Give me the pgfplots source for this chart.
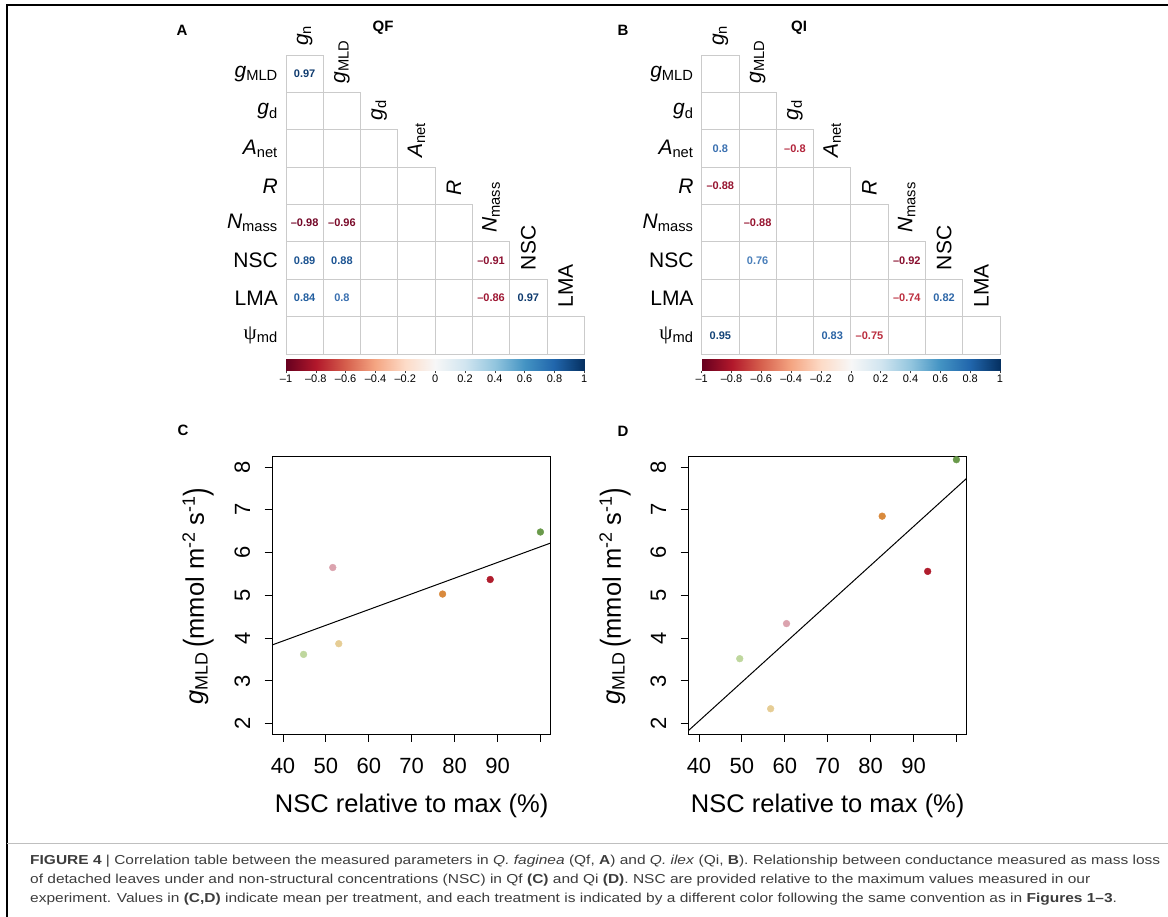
\documentclass[border=0pt]{standalone}
\usepackage{pgfplots}
\pgfplotsset{compat=1.18}
\usepackage{graphicx}
\usepackage{fontspec}
\setmainfont{Liberation Sans}
\newfontfamily\psifont{Liberation Serif}

\definecolor{capgray}{HTML}{3C3C3C}
\definecolor{gridgray}{HTML}{CBCBCB}
\definecolor{clg}{HTML}{BFD79E}
\definecolor{cpk}{HTML}{DBA3AE}
\definecolor{ctn}{HTML}{E6CD95}
\definecolor{cor}{HTML}{D98A3D}
\definecolor{crd}{HTML}{B01D2D}
\definecolor{cdg}{HTML}{6A9A4B}

\newcommand\lblfont{\fontsize{21}{25}\selectfont}
\newcommand\valfont{\fontsize{11}{13}\selectfont\bfseries}
\newcommand\cbfont{\fontsize{11}{13}\selectfont}
\newcommand\tickfont{\fontsize{22}{26}\selectfont}
\newcommand\axlfont{\fontsize{25.5}{30}\selectfont}
\newcommand\capfont{\fontsize{13}{16}\selectfont}
\newcommand\panfont{\fontsize{15}{18}\selectfont\bfseries}
\newcommand\gl[2]{\textit{#1}\textsubscript{#2}}
\newcommand\psimd{{\psifont ψ}\textsubscript{md}}
\newcommand\glab{\textit{g}\textsubscript{MLD}\,\raisebox{-0.12em}{\scalebox{1}[1.3]{(}}mmol m\textsuperscript{-2} s\textsuperscript{-1}\raisebox{-0.12em}{\scalebox{1}[1.3]{)}}}

\newlength\capw
\newcommand\capA{\textbf{FIGURE 4} | Correlation table between the measured parameters in \textit{Q. faginea} (Qf, \textbf{A}) and \textit{Q. ilex} (Qi, \textbf{B}). Relationship between conductance measured as mass loss}
\newcommand\capB{of detached leaves under and non-structural concentrations (NSC) in Qf \textbf{(C)} and Qi \textbf{(D)}. NSC are provided relative to the maximum values measured in our}
\newcommand\capC{experiment. Values in \textbf{(C,D)} indicate mean per treatment, and each treatment is indicated by a different color following the same convention as in \textbf{Figures 1--3}.}

\pgfplotsset{
  colormap={rdbu}{rgb255=(103,0,31) rgb255=(178,24,43) rgb255=(214,96,77) rgb255=(244,165,130) rgb255=(253,219,199) rgb255=(247,247,247) rgb255=(209,229,240) rgb255=(146,197,222) rgb255=(67,147,195) rgb255=(33,102,172) rgb255=(5,48,97)},
  corr/.style={
    scale only axis, width=298.3pt, height=299pt,
    xmin=0.5, xmax=8.5, ymin=0.5, ymax=8.5, y dir=reverse,
    axis line style={draw=none}, major tick length=0pt,
    xtick=\empty, ytick={1,2,3,4,5,6,7,8},
    yticklabels={\gl{g}{MLD},\gl{g}{d},\gl{A}{net},\textit{R},\gl{N}{mass},NSC,LMA,\psimd},
    yticklabel style={font=\lblfont, anchor=east, inner sep=0pt, xshift=-8pt},
    clip=false,
  },
  cbar/.style={
    scale only axis, width=298.3pt, height=12pt,
    xmin=-1, xmax=1, ymin=0, ymax=1,
    axis line style={draw=none}, ytick=\empty,
    xtick={-1,-0.8,-0.6,-0.4,-0.2,0,0.2,0.4,0.6,0.8,1},
    xticklabels={--1,--0.8,--0.6,--0.4,--0.2,0,0.2,0.4,0.6,0.8,1},
    tick pos=left, tick align=outside, major tick length=2.5pt,
    tick style={black!75, line width=0.6pt},
    xticklabel style={font=\cbfont, inner sep=1pt},
    colormap name=rdbu, point meta min=-1, point meta max=1,
  },
  rplot/.style={
    scale only axis, width=278pt, height=277.3pt,
    xmin=37.6, xmax=102.4, ymin=1.76, ymax=8.24,
    xtick={40,50,60,70,80,90,100}, xticklabels={40,50,60,70,80,90,{}},
    ytick={2,3,4,5,6,7,8},
    tick align=outside, tick pos=left, major tick length=8pt,
    axis line style={line width=0.9pt}, tick style={line width=0.9pt, black},
    ticklabel style={font=\tickfont},
    yticklabel style={rotate=90, anchor=south},
    xticklabel shift=12.5pt, yticklabel shift=11pt,
    /pgf/number format/assume math mode=true,
    scatter/classes={
      lg={mark=*, fill=clg, draw=clg}, pk={mark=*, fill=cpk, draw=cpk},
      tn={mark=*, fill=ctn, draw=ctn}, or={mark=*, fill=cor, draw=cor},
      rd={mark=*, fill=crd, draw=crd}, dg={mark=*, fill=cdg, draw=cdg}},
  },
  cells/.style={only marks, mark=square, mark size=18.66pt,
    mark options={draw=gridgray, line width=0.9pt}},
  % r = correlation; t = printed text; k = its colour on the RdBu scale
  vals/.style={only marks, mark=none,
    visualization depends on={value \thisrow{t}\as\lab},
    visualization depends on={value \thisrow{k}\as\tcol},
    nodes near coords={\lab},
    every node near coord/.append style={font=\valfont, anchor=center,
      execute at begin node={\color[HTML]{\tcol}}}},
}

\begin{document}
\settowidth{\capw}{\capfont\capA}%
\pgfmathsetmacro\capsx{1130/\capw}%
\begin{tikzpicture}[x=1pt,y=1pt]
\useasboundingbox (0,0) rectangle (1168,917);

% ---- A: QF correlations
\begin{axis}[corr, at={(286pt,862pt)}, anchor=north west]
\addplot[cells] coordinates {(1,1) (1,2) (2,2) (1,3) (2,3) (3,3)
 (1,4) (2,4) (3,4) (4,4) (1,5) (2,5) (3,5) (4,5) (5,5)
 (1,6) (2,6) (3,6) (4,6) (5,6) (6,6) (1,7) (2,7) (3,7) (4,7) (5,7) (6,7) (7,7)
 (1,8) (2,8) (3,8) (4,8) (5,8) (6,8) (7,8) (8,8)};
\addplot[vals] table[x=c, y=r] {
c r v t k
1 1 0.97 0.97 0E3A6E
1 5 -0.98 –0.98 720526
2 5 -0.96 –0.96 7A0A29
1 6 0.89 0.89 1A5290
2 6 0.88 0.88 1C5493
6 6 -0.91 –0.91 8C1030
1 7 0.84 0.84 225E9F
2 7 0.80 0.8 3A70B0
6 7 -0.86 –0.86 9E1733
7 7 0.97 0.97 0E3A6E
};
\node[rotate=90, anchor=west, font=\lblfont, inner sep=1pt] at ([yshift=8pt]axis cs:1,0.5) {\gl{g}{n}};
\node[rotate=90, anchor=west, font=\lblfont, inner sep=1pt] at ([yshift=8pt]axis cs:2,1.5) {\gl{g}{MLD}};
\node[rotate=90, anchor=west, font=\lblfont, inner sep=1pt] at ([yshift=8pt]axis cs:3,2.5) {\gl{g}{d}};
\node[rotate=90, anchor=west, font=\lblfont, inner sep=1pt] at ([yshift=8pt]axis cs:4,3.5) {\gl{A}{net}};
\node[rotate=90, anchor=west, font=\lblfont, inner sep=1pt] at ([yshift=8pt]axis cs:5,4.5) {\textit{R}};
\node[rotate=90, anchor=west, font=\lblfont, inner sep=1pt] at ([yshift=8pt]axis cs:6,5.5) {\gl{N}{mass}};
\node[rotate=90, anchor=west, font=\lblfont, inner sep=1pt] at ([yshift=8pt]axis cs:7,6.5) {NSC};
\node[rotate=90, anchor=west, font=\lblfont, inner sep=1pt] at ([yshift=8pt]axis cs:8,7.5) {LMA};
\end{axis}
\begin{axis}[cbar, at={(286pt,558pt)}, anchor=north west]
\addplot[surf, shader=interp, point meta=x] table {
x y
-1 0
-0.8 0
-0.6 0
-0.4 0
-0.2 0
0 0
0.2 0
0.4 0
0.6 0
0.8 0
1 0

-1 1
-0.8 1
-0.6 1
-0.4 1
-0.2 1
0 1
0.2 1
0.4 1
0.6 1
0.8 1
1 1
};
\end{axis}

% ---- B: QI correlations
\begin{axis}[corr, at={(701.7pt,862pt)}, anchor=north west]
\addplot[cells] coordinates {(1,1) (1,2) (2,2) (1,3) (2,3) (3,3)
 (1,4) (2,4) (3,4) (4,4) (1,5) (2,5) (3,5) (4,5) (5,5)
 (1,6) (2,6) (3,6) (4,6) (5,6) (6,6) (1,7) (2,7) (3,7) (4,7) (5,7) (6,7) (7,7)
 (1,8) (2,8) (3,8) (4,8) (5,8) (6,8) (7,8) (8,8)};
\addplot[vals] table[x=c, y=r] {
c r v t k
1 3 0.80 0.8 3A70B0
3 3 -0.80 –0.8 B2233A
1 4 -0.88 –0.88 96142F
2 5 -0.88 –0.88 96142F
2 6 0.76 0.76 4A7FBA
6 6 -0.92 –0.92 880F2E
6 7 -0.74 –0.74 BC3040
7 7 0.82 0.82 2E67A8
1 8 0.95 0.95 134377
4 8 0.83 0.83 2A63A4
5 8 -0.75 –0.75 BA2D3E
};
\node[rotate=90, anchor=west, font=\lblfont, inner sep=1pt] at ([yshift=8pt]axis cs:1,0.5) {\gl{g}{n}};
\node[rotate=90, anchor=west, font=\lblfont, inner sep=1pt] at ([yshift=8pt]axis cs:2,1.5) {\gl{g}{MLD}};
\node[rotate=90, anchor=west, font=\lblfont, inner sep=1pt] at ([yshift=8pt]axis cs:3,2.5) {\gl{g}{d}};
\node[rotate=90, anchor=west, font=\lblfont, inner sep=1pt] at ([yshift=8pt]axis cs:4,3.5) {\gl{A}{net}};
\node[rotate=90, anchor=west, font=\lblfont, inner sep=1pt] at ([yshift=8pt]axis cs:5,4.5) {\textit{R}};
\node[rotate=90, anchor=west, font=\lblfont, inner sep=1pt] at ([yshift=8pt]axis cs:6,5.5) {\gl{N}{mass}};
\node[rotate=90, anchor=west, font=\lblfont, inner sep=1pt] at ([yshift=8pt]axis cs:7,6.5) {NSC};
\node[rotate=90, anchor=west, font=\lblfont, inner sep=1pt] at ([yshift=8pt]axis cs:8,7.5) {LMA};
\end{axis}
\begin{axis}[cbar, at={(701.7pt,558pt)}, anchor=north west]
\addplot[surf, shader=interp, point meta=x] table {
x y
-1 0
-0.8 0
-0.6 0
-0.4 0
-0.2 0
0 0
0.2 0
0.4 0
0.6 0
0.8 0
1 0

-1 1
-0.8 1
-0.6 1
-0.4 1
-0.2 1
0 1
0.2 1
0.4 1
0.6 1
0.8 1
1 1
};
\end{axis}

% ---- C: Qf
\begin{axis}[rplot, at={(272.7pt,183pt)}, anchor=south west]
\addplot[scatter, only marks, mark size=3.4pt, scatter src=explicit symbolic]
 table[meta=c] {
x y c
44.8 3.62 lg
51.6 5.65 pk
53.0 3.87 tn
77.2 5.03 or
88.3 5.37 rd
100.0 6.48 dg
};
\addplot[black, line width=1pt] coordinates {(37.6,3.845) (102.4,6.223)};
\end{axis}

% ---- D: Qi
\begin{axis}[rplot, at={(688.7pt,183pt)}, anchor=south west]
\addplot[scatter, only marks, mark size=3.4pt, scatter src=explicit symbolic]
 table[meta=c] {
x y c
49.5 3.52 lg
56.7 2.35 tn
60.4 4.34 pk
82.7 6.85 or
93.3 5.56 rd
100.0 8.17 dg
};
\addplot[black, line width=1pt] coordinates {(37.6,1.845) (102.4,7.735)};
\end{axis}

% axis titles and panel letters
\node[font=\axlfont] at (411.7,111) {NSC relative to max (\%)};
\node[font=\axlfont] at (827.7,111) {NSC relative to max (\%)};
\node[font=\axlfont, rotate=90] at (198,321) {\glab};
\node[font=\axlfont, rotate=90] at (615,321) {\glab};
\node[font=\panfont] at (182,887) {A};
\node[font=\panfont] at (383,889) {QF};
\node[font=\panfont] at (623,887) {B};
\node[font=\panfont] at (799,889) {QI};
\node[font=\panfont] at (183,487) {C};
\node[font=\panfont] at (623,486) {D};

% frame and caption
\draw[line width=1.6pt] (7,0) -- (7,912) -- (1168,912);
\draw[black!25, line width=0.8pt] (7,74) -- (1168,74);
\node[anchor=base west, inner sep=0pt, text=capgray] at (30,52.5) {\scalebox{\capsx}[1]{\capfont\capA}};
\node[anchor=base west, inner sep=0pt, text=capgray] at (30,33.5) {\scalebox{\capsx}[1]{\capfont\capB}};
\node[anchor=base west, inner sep=0pt, text=capgray] at (30,14.5) {\scalebox{\capsx}[1]{\capfont\capC}};
\end{tikzpicture}
\end{document}
